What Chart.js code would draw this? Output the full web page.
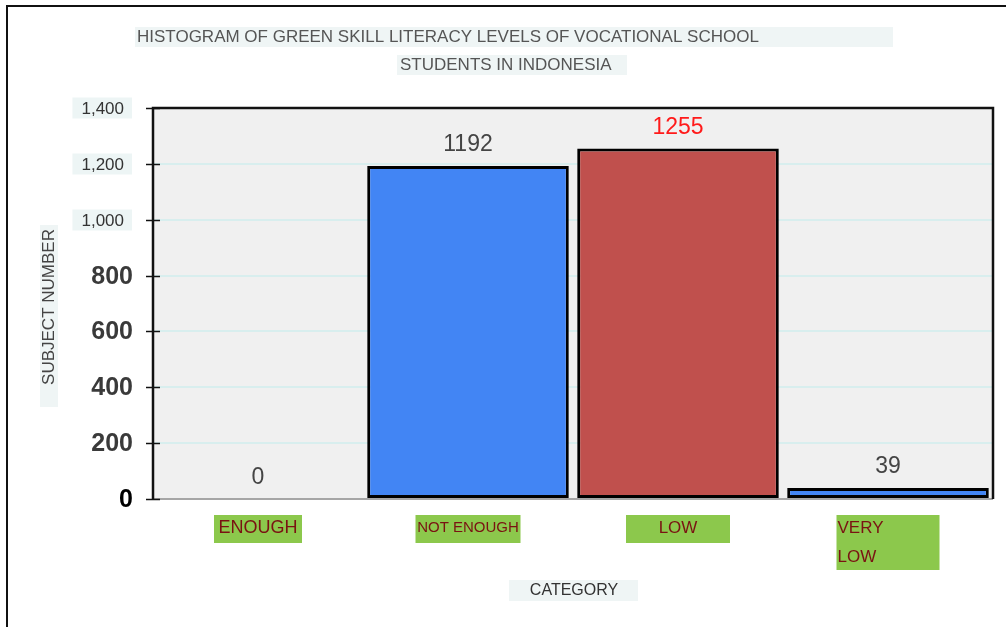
<!DOCTYPE html>
<html>
<head>
<meta charset="utf-8">
<script src="https://cdn.jsdelivr.net/npm/chart.js@4.4.1/dist/chart.umd.min.js"></script>
<style>
  html, body { margin: 0; padding: 0; background: #ffffff; }
  #wrap { position: relative; width: 1006px; height: 627px; }
  canvas { display: block; }
</style>
</head>
<body>
<div id="wrap"><canvas id="c" width="1006" height="627"></canvas></div>
<script>
// ---- data ----
const categories = ['ENOUGH', 'NOT ENOUGH', 'LOW', 'VERY LOW'];
const categoryLines = [['ENOUGH'], ['NOT ENOUGH'], ['LOW'], ['VERY', 'LOW']];
const subjectCounts = [0, 1192, 1255, 39];
const yTickValues = [0, 200, 400, 600, 800, 1000, 1200, 1400];
const yTickLabels = ['0', '200', '400', '600', '800', '1,000', '1,200', '1,400'];
const titleLines = ['HISTOGRAM OF GREEN SKILL LITERACY LEVELS OF VOCATIONAL SCHOOL', 'STUDENTS IN INDONESIA'];
const yAxisTitle = 'SUBJECT NUMBER';
const xAxisTitle = 'CATEGORY';

// ---- styles ----
const barColors = ['#4285f4', '#4285f4', '#c0504d', '#4285f4'];
const valueLabelColors = ['#444444', '#444444', '#ff1a1a', '#444444'];
const xLabelStyle = [
  { size: 18, boxW: 88, align: 'center' },
  { size: 15, boxW: 105, align: 'center' },
  { size: 17, boxW: 104, align: 'center' },
  { size: 17, boxW: 103, align: 'left' }
];
const FONT = '"Liberation Sans", Arial, sans-serif';

const decorPlugin = {
  id: 'decor',
  beforeDraw(chart) {
    const ctx = chart.ctx, a = chart.chartArea;
    ctx.save();
    ctx.fillStyle = '#111';
    ctx.fillRect(6, 5, 1006, 2);
    ctx.fillRect(6, 5, 2, 627);
    ctx.fillStyle = '#f0f0f0';
    ctx.fillRect(a.left, a.top, a.right - a.left, a.bottom - a.top);
    ctx.restore();
  },
  afterDraw(chart) {
    const ctx = chart.ctx, a = chart.chartArea;
    const xs = chart.scales.x, ys = chart.scales.y;
    ctx.save();
    // plot border
    ctx.strokeStyle = '#111';
    ctx.lineWidth = 2.5;
    ctx.beginPath();
    ctx.moveTo(a.left, a.bottom);
    ctx.lineTo(a.left, a.top);
    ctx.lineTo(a.right, a.top);
    ctx.lineTo(a.right, a.bottom);
    ctx.stroke();
    // crossing tick marks + y tick labels
    ctx.lineWidth = 1.5;
    ctx.textBaseline = 'middle';
    yTickValues.forEach((v, i) => {
      const y = Math.round(ys.getPixelForValue(v)) + 0.5;
      ctx.strokeStyle = '#111';
      ctx.beginPath();
      ctx.moveTo(a.left - 7, y);
      ctx.lineTo(a.left + 7, y);
      ctx.stroke();
      const lbl = yTickLabels[i];
      if (v >= 1000) {
        ctx.font = '17px ' + FONT;
        const w = ctx.measureText(lbl).width;
        ctx.fillStyle = '#edf5f5';
        ctx.fillRect(124 - w - 9, y - 11, w + 17, 21);
        ctx.fillStyle = '#333333';
        ctx.textAlign = 'right';
        ctx.fillText(lbl, 124, y + 1);
      } else {
        ctx.font = 'bold 25px ' + FONT;
        ctx.fillStyle = v === 0 ? '#000000' : '#3a3a3a';
        ctx.textAlign = 'right';
        ctx.fillText(lbl, 133, y + 1);
      }
    });

    // titles
    ctx.font = '17px ' + FONT;
    ctx.fillStyle = '#eff5f5';
    ctx.fillRect(135, 27, 758, 20);
    ctx.fillRect(397, 55, 230, 20);
    ctx.fillStyle = '#555555';
    ctx.textAlign = 'left';
    ctx.fillText(titleLines[0], 137, 37.5);
    ctx.fillText(titleLines[1], 400, 65.5);

    // y axis title
    ctx.fillStyle = '#eff5f5';
    ctx.fillRect(40, 225, 18, 182);
    ctx.save();
    ctx.translate(49, 307);
    ctx.rotate(-Math.PI / 2);
    ctx.textAlign = 'center';
    ctx.fillStyle = '#444444';
    ctx.font = '17px ' + FONT;
    ctx.fillText(yAxisTitle, 0, 0);
    ctx.restore();

    // x axis title
    ctx.fillStyle = '#eff5f5';
    ctx.fillRect(509, 580, 129, 21);
    ctx.fillStyle = '#333333';
    ctx.textAlign = 'center';
    ctx.font = '16px ' + FONT;
    ctx.fillText(xAxisTitle, 574, 591);

    // x category labels
    categoryLines.forEach((lines, i) => {
      const st = xLabelStyle[i];
      const cx = xs.getPixelForTick(i);
      const lineH = 29;
      const boxH = lines.length === 1 ? 28 : 55;
      const bx = cx - st.boxW / 2;
      ctx.fillStyle = '#8cc84c';
      ctx.fillRect(bx, 515, st.boxW, boxH);
      ctx.fillStyle = '#7a1212';
      ctx.font = st.size + 'px ' + FONT;
      ctx.textAlign = st.align;
      lines.forEach((ln, j) => {
        const tx = st.align === 'left' ? bx + 1 : cx;
        ctx.fillText(ln, tx, 528 + j * lineH);
      });
    });

    // value labels
    const meta = chart.getDatasetMeta(0);
    ctx.font = '23px ' + FONT;
    ctx.textAlign = 'center';
    meta.data.forEach((bar, i) => {
      ctx.fillStyle = valueLabelColors[i];
      ctx.fillText(String(subjectCounts[i]), bar.x, bar.y - 21);
    });
    ctx.restore();
  }
};

new Chart(document.getElementById('c'), {
  type: 'bar',
  data: {
    labels: categories,
    datasets: [{
      data: subjectCounts,
      backgroundColor: barColors,
      borderColor: '#000000',
      borderWidth: ctx => (ctx.raw === 0 ? 0 : 3),
      borderSkipped: false,
      barPercentage: 0.96,
      categoryPercentage: 1.0
    }]
  },
  options: {
    responsive: false,
    animation: false,
    devicePixelRatio: 1,
    layout: { padding: { left: 0, top: 108, right: 13, bottom: 0 } },
    plugins: { legend: { display: false }, title: { display: false }, tooltip: { enabled: false } },
    scales: {
      x: {
        afterFit: s => { s.height = 128; },
        grid: { display: false },
        border: { display: false },
        ticks: { display: false }
      },
      y: {
        min: 0,
        max: 1400,
        afterFit: s => { s.width = 153; },
        afterBuildTicks: s => { s.ticks = yTickValues.map(v => ({ value: v })); },
        border: { display: false },
        grid: {
          drawTicks: false,
          lineWidth: 2,
          color: ctx => (ctx.tick && ctx.tick.value === 0 ? '#a6a6a6' : (ctx.tick && ctx.tick.value === 1400 ? 'rgba(0,0,0,0)' : '#d8eeee'))
        },
        ticks: { display: false }
      }
    }
  },
  plugins: [decorPlugin]
});
</script>
</body>
</html>
